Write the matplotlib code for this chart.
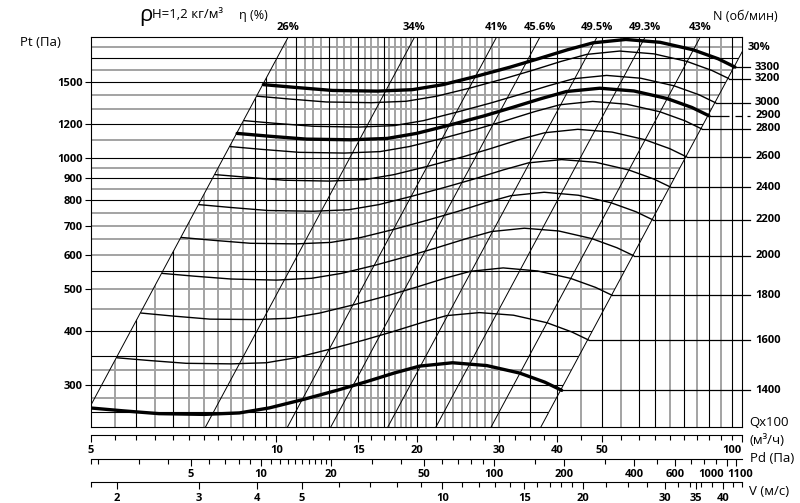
import matplotlib
matplotlib.use('Agg')
import matplotlib.pyplot as plt
import matplotlib.transforms as mtransforms
from matplotlib.patches import Polygon
from matplotlib.ticker import NullLocator, NullFormatter

plt.rcParams['font.family'] = ['Open Sans', 'DejaVu Sans']
plt.rcParams['axes.unicode_minus'] = False

# ---------------- data ----------------
# axis ranges: Q x100 m3/h (log), Pt Pa (log)
q_min, q_max = 4.0, 100.0
p_min, p_max = 240.0, 1900.0

# fan curves, one per speed (rpm)
q_1400 = [3.98, 4.67, 5.60, 7.00, 8.33, 9.66, 11.4, 13.5, 15.5, 17.9, 20.3, 23.9, 28.3, 33.3, 37.7, 41.0]
p_1400 = [266, 262, 258, 257, 259, 266, 278, 292, 305, 320, 332, 338, 333, 320, 305, 292]
q_1600 = [4.55, 5.34, 6.40, 8.00, 9.52, 11.0, 13.0, 15.4, 17.7, 20.5, 23.2, 27.3, 32.3, 38.1, 43.1, 46.9]
p_1600 = [347, 342, 337, 336, 338, 347, 363, 381, 398, 418, 434, 441, 435, 418, 398, 381]
q_1800 = [5.12, 6.00, 7.20, 9.00, 10.7, 12.4, 14.7, 17.4, 19.9, 23.0, 26.1, 30.7, 36.4, 42.8, 48.5, 52.7]
p_1800 = [440, 433, 426, 425, 428, 440, 460, 483, 504, 529, 549, 559, 550, 529, 504, 483]
q_2000 = [5.69, 6.67, 8.00, 10.0, 11.9, 13.8, 16.3, 19.3, 22.1, 25.6, 29.0, 34.1, 40.4, 47.6, 53.9, 58.6]
p_2000 = [543, 535, 527, 524, 529, 543, 567, 596, 622, 653, 678, 690, 680, 653, 622, 596]
q_2200 = [6.25, 7.34, 8.80, 11.0, 13.1, 15.2, 17.9, 21.2, 24.4, 28.1, 31.9, 37.6, 44.5, 52.3, 59.2, 64.4]
p_2200 = [657, 647, 637, 635, 640, 657, 686, 721, 753, 790, 820, 835, 822, 790, 753, 721]
q_2400 = [6.82, 8.01, 9.60, 12.0, 14.3, 16.6, 19.5, 23.1, 26.6, 30.7, 34.8, 41.0, 48.5, 57.1, 64.6, 70.3]
p_2400 = [782, 770, 758, 755, 761, 782, 817, 858, 896, 940, 976, 993, 979, 940, 896, 858]
q_2600 = [7.39, 8.67, 10.4, 13.0, 15.5, 17.9, 21.2, 25.1, 28.8, 33.2, 37.7, 44.4, 52.6, 61.8, 70.0, 76.1]
p_2600 = [917, 904, 890, 886, 893, 917, 959, 1007, 1052, 1104, 1145, 1166, 1149, 1104, 1052, 1007]
q_2800 = [7.96, 9.34, 11.2, 14.0, 16.7, 19.3, 22.8, 27.0, 31.0, 35.8, 40.6, 47.8, 56.6, 66.6, 75.4, 82.0]
p_2800 = [1064, 1048, 1032, 1028, 1036, 1064, 1112, 1168, 1220, 1280, 1328, 1352, 1332, 1280, 1220, 1168]
q_2900 = [8.24, 9.67, 11.6, 14.5, 17.3, 20.0, 23.6, 28.0, 32.1, 37.1, 42.0, 49.5, 58.6, 69.0, 78.1, 84.9]
p_2900 = [1141, 1124, 1107, 1103, 1111, 1141, 1193, 1253, 1309, 1373, 1425, 1450, 1429, 1373, 1309, 1253]
q_3000 = [8.53, 10.0, 12.0, 15.0, 17.9, 20.7, 24.4, 28.9, 33.2, 38.4, 43.5, 51.2, 60.6, 71.4, 80.8, 87.9]
p_3000 = [1221, 1203, 1185, 1180, 1189, 1221, 1277, 1341, 1401, 1469, 1525, 1552, 1529, 1469, 1401, 1341]
q_3200 = [9.10, 10.7, 12.8, 16.0, 19.0, 22.1, 26.1, 30.9, 35.4, 40.9, 46.4, 54.6, 64.7, 76.1, 86.2, 93.7]
p_3200 = [1390, 1369, 1348, 1343, 1353, 1390, 1452, 1526, 1593, 1672, 1735, 1766, 1740, 1672, 1593, 1526]
q_3300 = [9.38, 11.0, 13.2, 16.5, 19.6, 22.8, 26.9, 31.8, 36.5, 42.2, 47.9, 56.3, 66.7, 78.5, 88.9, 96.6]
p_3300 = [1478, 1456, 1433, 1428, 1439, 1478, 1545, 1622, 1695, 1778, 1845, 1878, 1850, 1778, 1695, 1622]

curves = [(1400, q_1400, p_1400), (1600, q_1600, p_1600), (1800, q_1800, p_1800),
          (2000, q_2000, p_2000), (2200, q_2200, p_2200), (2400, q_2400, p_2400),
          (2600, q_2600, p_2600), (2800, q_2800, p_2800), (2900, q_2900, p_2900),
          (3000, q_3000, p_3000), (3200, q_3200, p_3200), (3300, q_3300, p_3300)]
thick_speeds = [1400, 2900, 3300]

# efficiency lines (system parabolas): Q where they meet the top and bottom of the grid
eff_labels = ['26%', '34%', '41%', '45.6%', '49.5%', '49.3%', '43%', '30%']
eff_q_top = [10.6, 19.8, 29.7, 36.8, 48.8, 61.9, 81.3, 104.0]
eff_q_bottom = [3.77, 7.04, 10.56, 13.08, 17.34, 22.0, 28.9, 36.96]

# grid
q_grid_black = [5, 6, 9, 9.5, 11, 13, 15, 17, 20, 22, 35, 40, 50, 60, 65, 75, 85, 95]
q_grid_gray = [4.5, 5.5, 6.5, 7, 7.5, 8, 8.5, 10, 10.5, 11.5, 12, 12.5, 13.5, 14, 14.5,
               15.5, 16, 16.5, 17.5, 18, 18.5, 19, 19.5, 21, 23, 24, 25, 26, 27, 28, 29,
               30, 45, 55, 70, 80, 90]
p_grid_black = [260, 300, 350, 400, 550, 800, 900, 1000, 1200, 1500, 1700]
p_grid_gray = [280, 325, 450, 500, 600, 650, 700, 750, 850, 950, 1100, 1300, 1400, 1600, 1800]
p_ticks = [300, 400, 500, 600, 700, 800, 900, 1000, 1200, 1500]

# bottom scales
q_major = [4, 10, 15, 20, 30, 40, 50, 100]
q_major_labels = ['5', '10', '15', '20', '30', '40', '50', '100']
q_minor = [4.5, 5, 5.5, 6, 6.5, 7, 7.5, 8, 8.5, 9, 9.5, 11, 12, 13, 14, 16, 17, 18, 19,
           22, 24, 26, 28, 32.5, 35, 37.5, 45, 55, 60, 65, 70, 75, 80, 85, 90, 95]

pd_min, pd_max = 1.86, 1162.0
pd_major = [5, 10, 20, 50, 100, 200, 400, 600, 1000, 1100]
pd_major_labels = ['5', '10', '20', '50', '100', '200', '400', '600', '', '']
pd_minor = [1.86, 2, 3, 4, 6, 7, 8, 9, 11, 12, 13, 14, 15, 16, 17, 18, 19, 30, 40,
            60, 70, 80, 90, 150, 300, 500, 700, 800, 900]

v_min, v_max = 1.76, 44.0
v_major = [2, 3, 4, 5, 10, 15, 20, 30, 35, 40]
v_major_labels = ['2', '3', '4', '5', '10', '15', '20', '30', '35', '40']
v_minor = [1.76, 6, 7, 8, 9, 11, 12, 13, 14, 16, 17, 18, 19, 22.5, 25, 27.5, 32, 34,
           36, 38, 42, 44]

# ---------------- figure ----------------
fig = plt.figure(figsize=(8.0, 5.03), dpi=100)
ax_left, ax_width = 0.11375, 0.81375
ax = fig.add_axes([ax_left, 0.1505, ax_width, 0.7754])
ax.set_xscale('log')
ax.set_yscale('log')
ax.set_xlim(q_min, q_max)
ax.set_ylim(p_min, p_max)

# clip regions: verticals only right of the 26% line, horizontals only left of the 30% line
right_of_first = Polygon([(eff_q_bottom[0], p_min), (eff_q_top[0], p_max),
                          (q_max, p_max), (q_max, p_min)],
                         closed=True, transform=ax.transData)
left_of_last = Polygon([(q_min, p_min), (eff_q_bottom[-1], p_min),
                        (eff_q_top[-1], p_max), (q_min, p_max)],
                       closed=True, transform=ax.transData)

gray = '#a3a3a3'
vg = ax.vlines(q_grid_gray, p_min, p_max, colors=gray, linewidth=1.4, zorder=1)
vb = ax.vlines(q_grid_black, p_min, p_max, colors='black', linewidth=0.8, zorder=1.5)
hg = ax.hlines(p_grid_gray, q_min, q_max, colors=gray, linewidth=1.4, zorder=1)
hb = ax.hlines(p_grid_black, q_min, q_max, colors='black', linewidth=0.8, zorder=1.5)
for c in (vg, vb):
    c.set_clip_path(right_of_first)
for c in (hg, hb):
    c.set_clip_path(left_of_last)

# efficiency lines
for qb, qt in zip(eff_q_bottom, eff_q_top):
    ax.plot([qb, qt], [p_min, p_max], color='black', linewidth=0.7, zorder=3)

top_trans = mtransforms.blended_transform_factory(ax.transData, ax.transAxes)
for lab, qt in zip(eff_labels[:-1], eff_q_top[:-1]):
    ax.text(qt, 1.026, lab, transform=top_trans, ha='center', va='center',
            fontsize=8, fontweight='bold')
ax.text(1.009, 0.975, eff_labels[-1], transform=ax.transAxes, ha='left', va='center',
        fontsize=8, fontweight='bold')

# fan curves + speed labels on the right
right_trans = mtransforms.blended_transform_factory(ax.transAxes, ax.transData)
for speed, qs, ps in curves:
    lw = 2.4 if speed in thick_speeds else 1.0
    ax.plot(qs, ps, color='black', linewidth=lw, zorder=4, solid_capstyle='round',
            solid_joinstyle='round')
    ls = (0, (16, 4.8, 5.6, 4)) if speed == 2900 else '-'
    ax.plot([qs[-1], 104.0], [ps[-1], ps[-1]], color='black', linewidth=0.9,
            linestyle=ls, clip_on=False, zorder=3)
    ax.text(1.020, ps[-1], str(speed), transform=right_trans, ha='left', va='center',
            fontsize=8, fontweight='bold')

# axes cosmetics
for s in ax.spines.values():
    s.set_linewidth(0.8)
ax.set_xticks([])
ax.xaxis.set_minor_locator(NullLocator())
ax.set_yticks(p_ticks, labels=[str(v) for v in p_ticks], fontsize=8, fontweight='bold')
ax.yaxis.set_minor_locator(NullLocator())
ax.tick_params(axis='y', length=4, width=0.8, pad=2)


def scale_bar(y_fig, lo, hi, major, labels, minor):
    sa = fig.add_axes([ax_left, y_fig, ax_width, 0.0001])
    sa.set_xscale('log')
    sa.set_xlim(lo, hi)
    for s in ('top', 'left', 'right'):
        sa.spines[s].set_visible(False)
    sa.spines['bottom'].set_linewidth(0.8)
    sa.patch.set_visible(False)
    sa.set_yticks([])
    sa.yaxis.set_minor_locator(NullLocator())
    sa.set_xticks(major, labels=labels, fontsize=8, fontweight='bold')
    sa.set_xticks(minor, minor=True)
    sa.xaxis.set_minor_formatter(NullFormatter())
    sa.tick_params(which='major', length=5, width=0.8, pad=2.5)
    sa.tick_params(which='minor', length=3.5, width=0.8)
    return sa


sq = scale_bar(1 - 435 / 503, q_min, q_max, q_major, q_major_labels, q_minor)
sq.get_xticklabels()[-1].set_ha('right')
spd = scale_bar(1 - 459 / 503, pd_min, pd_max, pd_major, pd_major_labels, pd_minor)
for val, dx in ((1000, -11), (1100, 3)):
    spd.annotate(str(val), xy=(val, 0), xycoords=('data', 'axes fraction'),
                 xytext=(dx, -11.5), textcoords='offset points', ha='center', va='center',
                 fontsize=8, fontweight='bold', annotation_clip=False)
sv = scale_bar(1 - 482.3 / 503, v_min, v_max, v_major, v_major_labels, v_minor)

# labels
fig.text(139 / 800, 1 - 15 / 503, 'ρ', fontsize=16, va='center')
fig.text(152 / 800, 1 - 15 / 503, 'Н=1,2 кг/м³', fontsize=9.5, va='center')
fig.text(239 / 800, 1 - 15 / 503, 'η (%)', fontsize=9, va='center')
fig.text(20 / 800, 1 - 42 / 503, 'Pt (Па)', fontsize=9.5, va='center')
fig.text(713 / 800, 1 - 17 / 503, 'N (об/мин)', fontsize=9, va='center')
fig.text(749 / 800, 1 - 423 / 503, 'Qx100', fontsize=9.5, va='center')
fig.text(749 / 800, 1 - 440 / 503, '(м³/ч)', fontsize=9.5, va='center')
fig.text(750 / 800, 1 - 458 / 503, 'Pd (Па)', fontsize=9.5, va='center')
fig.text(749 / 800, 1 - 491.5 / 503, 'V (м/с)', fontsize=9.5, va='center')

fig.savefig('out.png', dpi=100)
